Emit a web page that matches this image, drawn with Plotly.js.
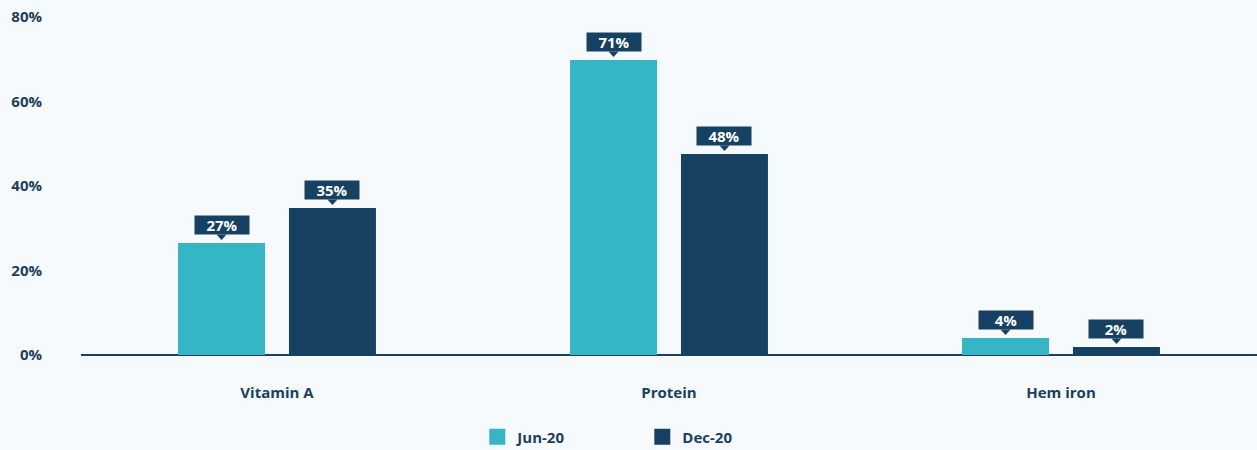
<!DOCTYPE html>
<html>
<head>
<meta charset="utf-8">
<script src="https://cdn.plot.ly/plotly-3.0.1.min.js"></script>
<style>
  html, body { margin: 0; padding: 0; background: #f6fafc; }
  #chart { width: 1257px; height: 450px; }
</style>
</head>
<body>
<div id="chart"></div>
<script>
// ---- data ----
const categories = ["Vitamin A", "Protein", "Hem iron"];
const seriesNames = ["Jun-20", "Dec-20"];
const jun20 = [26.5, 69.8, 4.0];
const dec20 = [34.8, 47.6, 1.9];
const jun20Labels = ["27%", "71%", "4%"];
const dec20Labels = ["35%", "48%", "2%"];
const yTickVals = [0, 20, 40, 60, 80];
const yTickText = ["0%", "20%", "40%", "60%", "80%"];

// ---- style ----
const TEAL = "#36b5c4";
const NAVY = "#164163";
const TEXT = "#1c3f5e";
const BG = "#f6fafc";
const FONT = "Open Sans, Noto Sans, sans-serif";

const W = 1257, H = 450;
const margin = { l: 81, r: 0, t: 17, b: 95 };
const bargap = 0.434, bargroupgap = 0.216;

const plotW = W - margin.l - margin.r;
const catW = plotW / categories.length;
const slotW = catW * (1 - bargap) / 2;
const offsets = [-slotW / 2, slotW / 2];

const series = [
  { name: seriesNames[0], y: jun20, labels: jun20Labels, color: TEAL },
  { name: seriesNames[1], y: dec20, labels: dec20Labels, color: NAVY }
];

const traces = [];
series.forEach(s => {
  traces.push({
    type: "bar", x: categories, y: s.y, name: s.name,
    marker: { color: s.color }, showlegend: false, hoverinfo: "skip"
  });
});
// legend entries (square markers)
series.forEach(s => {
  traces.push({
    type: "scatter", mode: "markers", x: [null], y: [null], name: s.name,
    marker: { symbol: "square", size: 16, color: s.color }, showlegend: true
  });
});

const annotations = [];
const shapes = [];
series.forEach((s, si) => {
  s.y.forEach((v, ci) => {
    annotations.push({
      x: ci, y: v, xref: "x", yref: "y",
      xshift: offsets[si], yshift: 8,
      yanchor: "bottom", xanchor: "center",
      text: "<b>" + s.labels[ci] + "</b>",
      showarrow: false,
      font: { family: FONT, size: 15, color: "#ffffff" },
      bgcolor: NAVY, width: 52, height: 16, borderpad: 1
    });
    const dx = offsets[si];
    shapes.push({
      type: "path", xref: "x", yref: "y",
      xsizemode: "pixel", ysizemode: "pixel",
      xanchor: ci, yanchor: v,
      path: `M ${dx - 5},8.5 L ${dx + 5},8.5 L ${dx},3 Z`,
      fillcolor: NAVY, line: { width: 0 }
    });
  });
});

const layout = {
  width: W, height: H,
  margin: margin,
  paper_bgcolor: BG, plot_bgcolor: BG,
  barmode: "group", bargap: bargap, bargroupgap: bargroupgap,
  font: { family: FONT, color: TEXT },
  xaxis: {
    type: "category", showgrid: false, zeroline: false, showline: false,
    ticks: "", tickfont: { family: FONT, size: 15, color: TEXT, weight: 700 },
    ticklabelstandoff: 27, fixedrange: true, automargin: false
  },
  yaxis: {
    range: [0, 80], showgrid: false, zeroline: true, zerolinecolor: NAVY, zerolinewidth: 2.5,
    showline: false, ticks: "", tickvals: yTickVals, ticktext: yTickText,
    tickfont: { family: FONT, size: 15, color: TEXT, weight: 700 },
    ticklabelstandoff: 38, fixedrange: true, automargin: false
  },
  legend: {
    orientation: "h", x: 0.337, xanchor: "left",
    yref: "container", y: 0.029, yanchor: "middle",
    font: { family: FONT, size: 15, color: TEXT, weight: 700 },
    entrywidth: 120, entrywidthmode: "pixels", itemwidth: 30,
    bgcolor: "rgba(0,0,0,0)", traceorder: "normal"
  },
  annotations: annotations,
  shapes: shapes
};

Plotly.newPlot("chart", traces, layout, { displayModeBar: false, staticPlot: true });
</script>
</body>
</html>
